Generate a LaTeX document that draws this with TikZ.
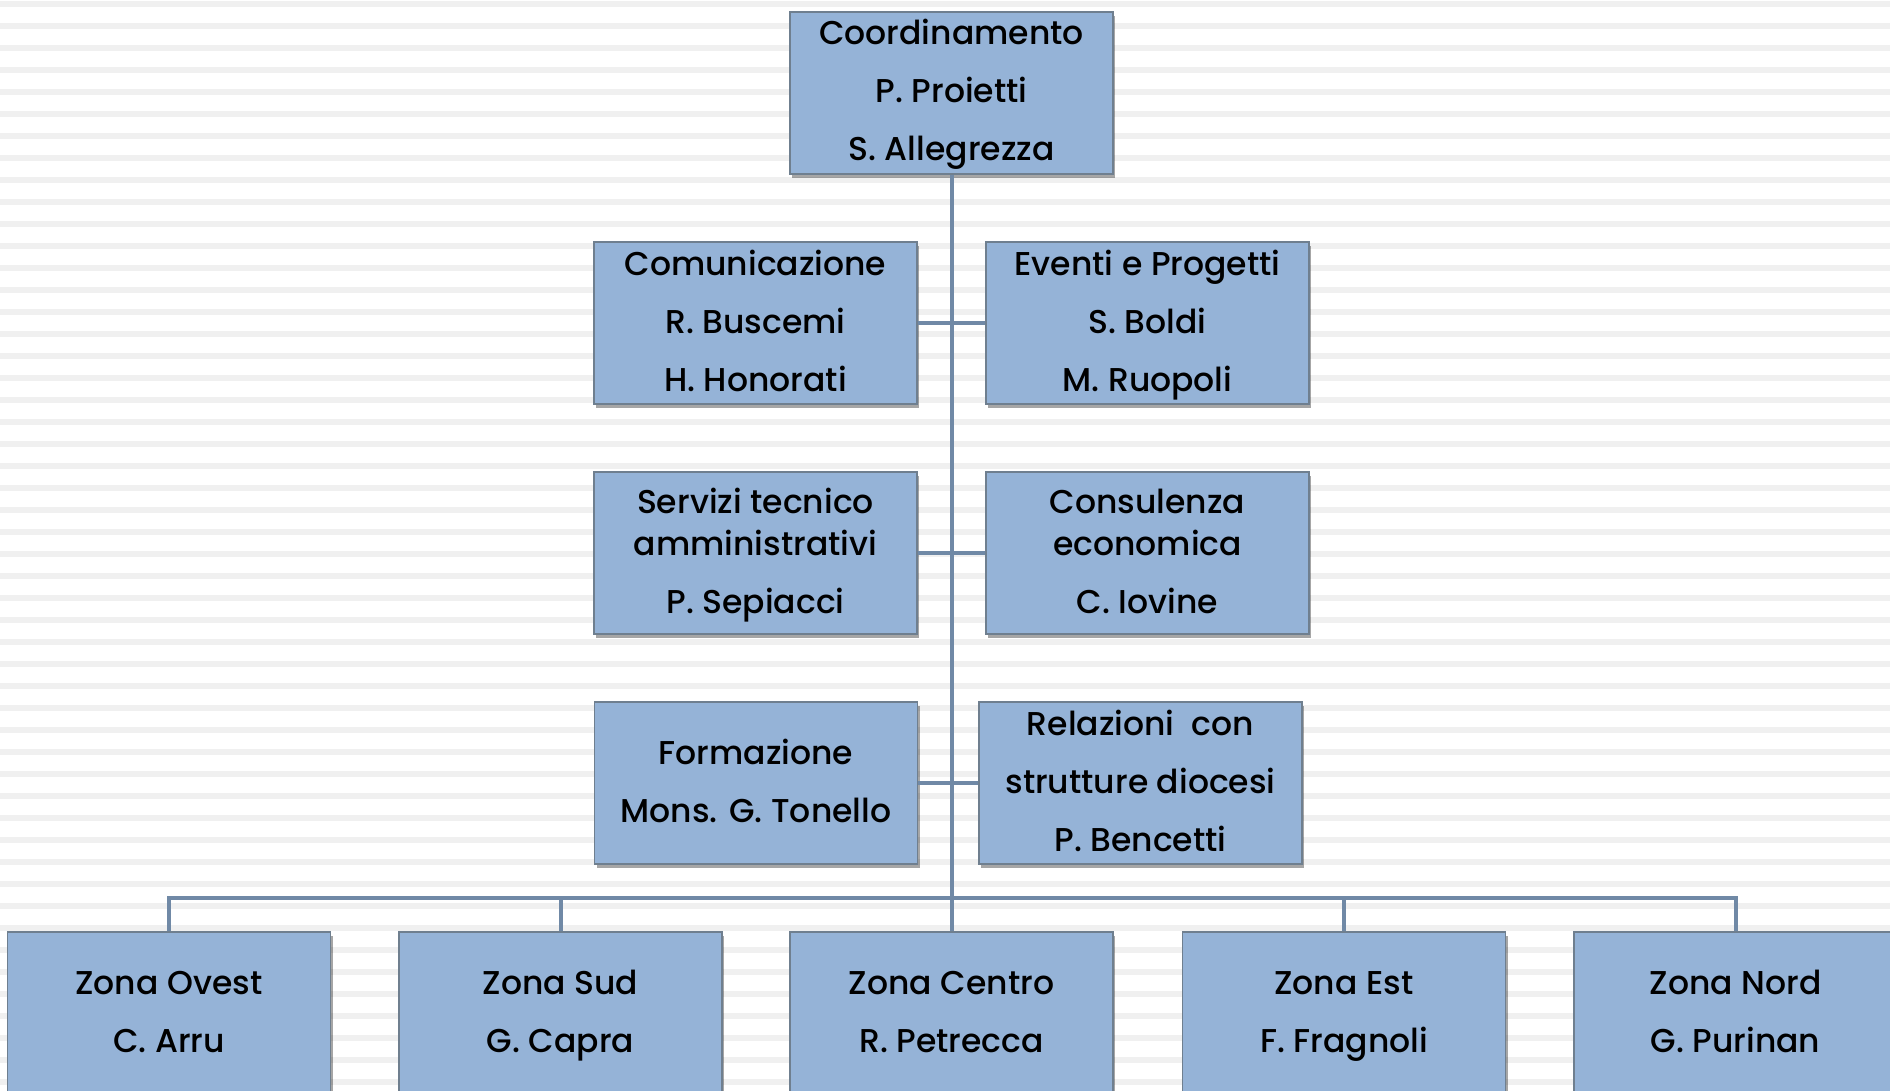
\documentclass[tikz,border=0pt]{standalone}
\usepackage{fontspec}
\setmainfont{Poppins Medium}
\usetikzlibrary{shadows}
\definecolor{boxfill}{HTML}{95B3D7}
\definecolor{boxline}{HTML}{6F7F8F}
\definecolor{conn}{HTML}{7089A6}
\definecolor{stripe}{HTML}{F0F0F0}
\newcommand\orgsr{\rule[-12pt]{0pt}{44pt}}
\tikzset{
  orgbox/.style={draw=boxline, line width=1.2pt, fill=boxfill,
    minimum width=323pt, minimum height=162pt, inner sep=0pt,
    align=center, font=\fontsize{33}{58}\selectfont,
    drop shadow={shadow xshift=2pt, shadow yshift=-4pt, opacity=0.35, fill=black}},
  link/.style={draw=conn, line width=4pt}
}
\begin{document}
\begin{tikzpicture}[x=1pt,y=-1pt]
\clip (0,0) rectangle (1890,1091);
\fill[white] (0,0) rectangle (1890,1091);
\foreach \i in {0,...,49}{
  \fill[stripe] (0,1+22*\i) rectangle (1890,7+22*\i);
}
\coordinate (bus) at (951.5,898);
\node[orgbox] (top) at (951.5,93) {\orgsr Coordinamento\\P. Proietti\\S. Allegrezza\orgsr};
\node[orgbox] (com) at (755.5,323) {\orgsr Comunicazione\\R. Buscemi\\H. Honorati\orgsr};
\node[orgbox] (eve) at (1147.5,323) {\orgsr Eventi e Progetti\\S. Boldi\\M. Ruopoli\orgsr};
\node[orgbox] (ser) at (755.5,553) {\orgsr Servizi tecnico\\[-16pt]amministrativi\\P. Sepiacci\orgsr};
\node[orgbox] (con) at (1147.5,553) {\orgsr Consulenza\\[-16pt]economica\\C. Iovine\orgsr};
\node[orgbox] (for) at (756,783) {\orgsr Formazione\\Mons. G. Tonello\orgsr};
\node[orgbox] (rel) at (1140.5,783) {\orgsr Relazioni\ \ con\\strutture diocesi\\P. Bencetti\orgsr};
\node[orgbox] (ove) at (169,1013) {\orgsr Zona Ovest\\C. Arru\orgsr};
\node[orgbox] (sud) at (560.5,1013) {\orgsr Zona Sud\\G. Capra\orgsr};
\node[orgbox] (cen) at (951.5,1013) {\orgsr Zona Centro\\R. Petrecca\orgsr};
\node[orgbox] (est) at (1344,1013) {\orgsr Zona Est\\F. Fragnoli\orgsr};
\node[orgbox] (nor) at (1735.5,1013) {\orgsr Zona Nord\\G. Purinan\orgsr};
\draw[link] (top.south) -- (bus);
\draw[link] (com.east) -- (eve.west);
\draw[link] (ser.east) -- (con.west);
\draw[link] (for.east) -- (rel.west);
\draw[link] (ove.north) -- (ove.north |- bus) -- (nor.north |- bus) -- (nor.north);
\draw[link] (sud.north) -- (sud.north |- bus);
\draw[link] (cen.north) -- (bus);
\draw[link] (est.north) -- (est.north |- bus);
\end{tikzpicture}
\end{document}
